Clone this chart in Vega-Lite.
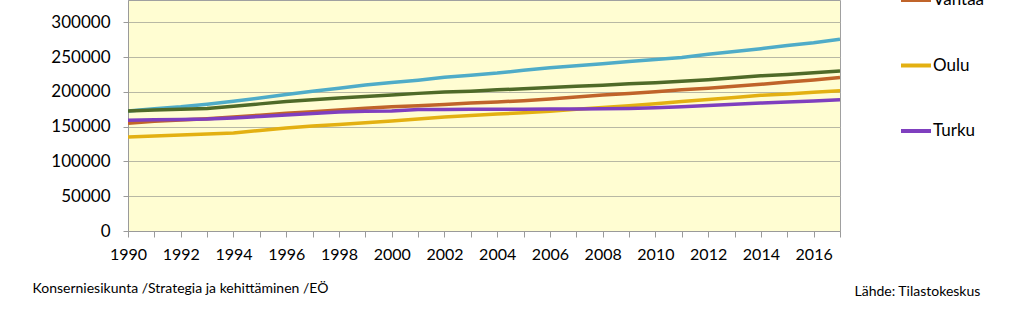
{
  "$schema": "https://vega.github.io/schema/vega-lite/v6.json",
  "width": 712,
  "height": 231,
  "autosize": {"type": "none"},
  "padding": {"left": 128, "top": 0, "right": 183, "bottom": 103},
  "background": "white",
  "config": {
    "font": "Lato",
    "view": {"fill": "#FFFDD2", "stroke": "#a0a0a0", "strokeWidth": 1}
  },
  "data": {
    "values": [
      {"year": 1990, "city": "Espoo", "pop": 172600},
      {"year": 1991, "city": "Espoo", "pop": 175800},
      {"year": 1992, "city": "Espoo", "pop": 178500},
      {"year": 1993, "city": "Espoo", "pop": 182100},
      {"year": 1994, "city": "Espoo", "pop": 186500},
      {"year": 1995, "city": "Espoo", "pop": 191200},
      {"year": 1996, "city": "Espoo", "pop": 196300},
      {"year": 1997, "city": "Espoo", "pop": 200800},
      {"year": 1998, "city": "Espoo", "pop": 205000},
      {"year": 1999, "city": "Espoo", "pop": 209700},
      {"year": 2000, "city": "Espoo", "pop": 213300},
      {"year": 2001, "city": "Espoo", "pop": 216800},
      {"year": 2002, "city": "Espoo", "pop": 221000},
      {"year": 2003, "city": "Espoo", "pop": 224000},
      {"year": 2004, "city": "Espoo", "pop": 227000},
      {"year": 2005, "city": "Espoo", "pop": 231000},
      {"year": 2006, "city": "Espoo", "pop": 234500},
      {"year": 2007, "city": "Espoo", "pop": 237500},
      {"year": 2008, "city": "Espoo", "pop": 240500},
      {"year": 2009, "city": "Espoo", "pop": 243500},
      {"year": 2010, "city": "Espoo", "pop": 246500},
      {"year": 2011, "city": "Espoo", "pop": 249500},
      {"year": 2012, "city": "Espoo", "pop": 254000},
      {"year": 2013, "city": "Espoo", "pop": 258000},
      {"year": 2014, "city": "Espoo", "pop": 262000},
      {"year": 2015, "city": "Espoo", "pop": 266500},
      {"year": 2016, "city": "Espoo", "pop": 270500},
      {"year": 2017, "city": "Espoo", "pop": 275500},
      {"year": 1990, "city": "Tampere", "pop": 172600},
      {"year": 1991, "city": "Tampere", "pop": 173800},
      {"year": 1992, "city": "Tampere", "pop": 175100},
      {"year": 1993, "city": "Tampere", "pop": 176100},
      {"year": 1994, "city": "Tampere", "pop": 179300},
      {"year": 1995, "city": "Tampere", "pop": 182700},
      {"year": 1996, "city": "Tampere", "pop": 186000},
      {"year": 1997, "city": "Tampere", "pop": 188700},
      {"year": 1998, "city": "Tampere", "pop": 191300},
      {"year": 1999, "city": "Tampere", "pop": 193200},
      {"year": 2000, "city": "Tampere", "pop": 195500},
      {"year": 2001, "city": "Tampere", "pop": 197800},
      {"year": 2002, "city": "Tampere", "pop": 199800},
      {"year": 2003, "city": "Tampere", "pop": 201000},
      {"year": 2004, "city": "Tampere", "pop": 202900},
      {"year": 2005, "city": "Tampere", "pop": 204300},
      {"year": 2006, "city": "Tampere", "pop": 206400},
      {"year": 2007, "city": "Tampere", "pop": 207900},
      {"year": 2008, "city": "Tampere", "pop": 209600},
      {"year": 2009, "city": "Tampere", "pop": 211500},
      {"year": 2010, "city": "Tampere", "pop": 213200},
      {"year": 2011, "city": "Tampere", "pop": 215200},
      {"year": 2012, "city": "Tampere", "pop": 217400},
      {"year": 2013, "city": "Tampere", "pop": 220400},
      {"year": 2014, "city": "Tampere", "pop": 223000},
      {"year": 2015, "city": "Tampere", "pop": 225100},
      {"year": 2016, "city": "Tampere", "pop": 227300},
      {"year": 2017, "city": "Tampere", "pop": 230000},
      {"year": 1990, "city": "Vantaa", "pop": 154900},
      {"year": 1991, "city": "Vantaa", "pop": 157700},
      {"year": 1992, "city": "Vantaa", "pop": 159500},
      {"year": 1993, "city": "Vantaa", "pop": 161400},
      {"year": 1994, "city": "Vantaa", "pop": 164000},
      {"year": 1995, "city": "Vantaa", "pop": 166500},
      {"year": 1996, "city": "Vantaa", "pop": 169300},
      {"year": 1997, "city": "Vantaa", "pop": 171300},
      {"year": 1998, "city": "Vantaa", "pop": 173900},
      {"year": 1999, "city": "Vantaa", "pop": 176400},
      {"year": 2000, "city": "Vantaa", "pop": 178500},
      {"year": 2001, "city": "Vantaa", "pop": 179900},
      {"year": 2002, "city": "Vantaa", "pop": 181900},
      {"year": 2003, "city": "Vantaa", "pop": 184000},
      {"year": 2004, "city": "Vantaa", "pop": 185400},
      {"year": 2005, "city": "Vantaa", "pop": 187300},
      {"year": 2006, "city": "Vantaa", "pop": 189700},
      {"year": 2007, "city": "Vantaa", "pop": 192500},
      {"year": 2008, "city": "Vantaa", "pop": 195400},
      {"year": 2009, "city": "Vantaa", "pop": 197600},
      {"year": 2010, "city": "Vantaa", "pop": 200100},
      {"year": 2011, "city": "Vantaa", "pop": 203000},
      {"year": 2012, "city": "Vantaa", "pop": 205300},
      {"year": 2013, "city": "Vantaa", "pop": 208100},
      {"year": 2014, "city": "Vantaa", "pop": 210800},
      {"year": 2015, "city": "Vantaa", "pop": 214000},
      {"year": 2016, "city": "Vantaa", "pop": 217000},
      {"year": 2017, "city": "Vantaa", "pop": 220500},
      {"year": 1990, "city": "Oulu", "pop": 135000},
      {"year": 1991, "city": "Oulu", "pop": 136500},
      {"year": 1992, "city": "Oulu", "pop": 138000},
      {"year": 1993, "city": "Oulu", "pop": 139500},
      {"year": 1994, "city": "Oulu", "pop": 141000},
      {"year": 1995, "city": "Oulu", "pop": 144500},
      {"year": 1996, "city": "Oulu", "pop": 148000},
      {"year": 1997, "city": "Oulu", "pop": 151000},
      {"year": 1998, "city": "Oulu", "pop": 153000},
      {"year": 1999, "city": "Oulu", "pop": 155500},
      {"year": 2000, "city": "Oulu", "pop": 158000},
      {"year": 2001, "city": "Oulu", "pop": 161000},
      {"year": 2002, "city": "Oulu", "pop": 164000},
      {"year": 2003, "city": "Oulu", "pop": 166000},
      {"year": 2004, "city": "Oulu", "pop": 168000},
      {"year": 2005, "city": "Oulu", "pop": 170000},
      {"year": 2006, "city": "Oulu", "pop": 172000},
      {"year": 2007, "city": "Oulu", "pop": 175000},
      {"year": 2008, "city": "Oulu", "pop": 177500},
      {"year": 2009, "city": "Oulu", "pop": 180000},
      {"year": 2010, "city": "Oulu", "pop": 183000},
      {"year": 2011, "city": "Oulu", "pop": 186000},
      {"year": 2012, "city": "Oulu", "pop": 189000},
      {"year": 2013, "city": "Oulu", "pop": 192000},
      {"year": 2014, "city": "Oulu", "pop": 195000},
      {"year": 2015, "city": "Oulu", "pop": 197000},
      {"year": 2016, "city": "Oulu", "pop": 199500},
      {"year": 2017, "city": "Oulu", "pop": 201500},
      {"year": 1990, "city": "Turku", "pop": 159200},
      {"year": 1991, "city": "Turku", "pop": 159900},
      {"year": 1992, "city": "Turku", "pop": 160400},
      {"year": 1993, "city": "Turku", "pop": 160900},
      {"year": 1994, "city": "Turku", "pop": 162400},
      {"year": 1995, "city": "Turku", "pop": 164700},
      {"year": 1996, "city": "Turku", "pop": 166600},
      {"year": 1997, "city": "Turku", "pop": 168800},
      {"year": 1998, "city": "Turku", "pop": 170900},
      {"year": 1999, "city": "Turku", "pop": 172100},
      {"year": 2000, "city": "Turku", "pop": 172600},
      {"year": 2001, "city": "Turku", "pop": 174600},
      {"year": 2002, "city": "Turku", "pop": 174800},
      {"year": 2003, "city": "Turku", "pop": 174900},
      {"year": 2004, "city": "Turku", "pop": 175100},
      {"year": 2005, "city": "Turku", "pop": 174900},
      {"year": 2006, "city": "Turku", "pop": 175300},
      {"year": 2007, "city": "Turku", "pop": 175400},
      {"year": 2008, "city": "Turku", "pop": 175600},
      {"year": 2009, "city": "Turku", "pop": 176100},
      {"year": 2010, "city": "Turku", "pop": 177300},
      {"year": 2011, "city": "Turku", "pop": 178600},
      {"year": 2012, "city": "Turku", "pop": 180200},
      {"year": 2013, "city": "Turku", "pop": 182100},
      {"year": 2014, "city": "Turku", "pop": 183800},
      {"year": 2015, "city": "Turku", "pop": 185400},
      {"year": 2016, "city": "Turku", "pop": 187000},
      {"year": 2017, "city": "Turku", "pop": 188500}
    ]
  },
  "mark": {"type": "line", "strokeWidth": 3.5, "clip": true},
  "encoding": {
    "x": {
      "field": "year",
      "type": "quantitative",
      "scale": {"domain": [1990, 2017], "nice": false, "zero": false},
      "axis": {
        "values": [1990, 1991, 1992, 1993, 1994, 1995, 1996, 1997, 1998, 1999, 2000, 2001, 2002, 2003, 2004, 2005, 2006, 2007, 2008, 2009, 2010, 2011, 2012, 2013, 2014, 2015, 2016, 2017],
        "format": "d",
        "labelExpr": "datum.value % 2 == 0 ? datum.label : ''",
        "grid": false,
        "tickSize": 6,
        "tickColor": "#9a9a9a",
        "domainColor": "#9a9a9a",
        "labelFontSize": 16,
        "labelColor": "#000000",
        "labelPadding": 9,
        "labelFlush": false,
        "labelOverlap": false,
        "title": "Lähde: Tilastokeskus",
        "titleX": 726,
        "titleY": 64.5,
        "titleAlign": "left",
        "titleBaseline": "alphabetic",
        "titleFontSize": 14,
        "titleFontWeight": "normal",
        "titleColor": "#000000"
      }
    },
    "y": {
      "field": "pop",
      "type": "quantitative",
      "scale": {"domain": [0, 332000], "nice": false},
      "axis": {
        "values": [0, 50000, 100000, 150000, 200000, 250000, 300000],
        "format": "d",
        "grid": true,
        "gridColor": "#b8b8a4",
        "tickSize": 5,
        "tickColor": "#9a9a9a",
        "domainColor": "#9a9a9a",
        "labelFontSize": 17,
        "labelColor": "#000000",
        "labelPadding": 13,
        "labelFlush": false,
        "title": "Konserniesikunta  /Strategia ja kehittäminen /EÖ",
        "titleAngle": 0,
        "titleX": -96,
        "titleY": 292.5,
        "titleAlign": "left",
        "titleBaseline": "alphabetic",
        "titleFontSize": 14,
        "titleFontWeight": "normal",
        "titleColor": "#000000"
      }
    },
    "color": {
      "field": "city",
      "type": "nominal",
      "scale": {
        "domain": ["Espoo", "Tampere", "Vantaa", "Oulu", "Turku"],
        "range": ["#4FACC8", "#4F6A28", "#C0642A", "#E3B012", "#7F3FBF"]
      },
      "legend": {
        "title": null,
        "orient": "none",
        "legendX": 771,
        "legendY": -148,
        "symbolType": "stroke",
        "symbolStrokeWidth": 4,
        "symbolSize": 900,
        "labelFontSize": 17,
        "labelColor": "#000000",
        "labelOffset": 0,
        "rowPadding": 40.5
      }
    }
  }
}
